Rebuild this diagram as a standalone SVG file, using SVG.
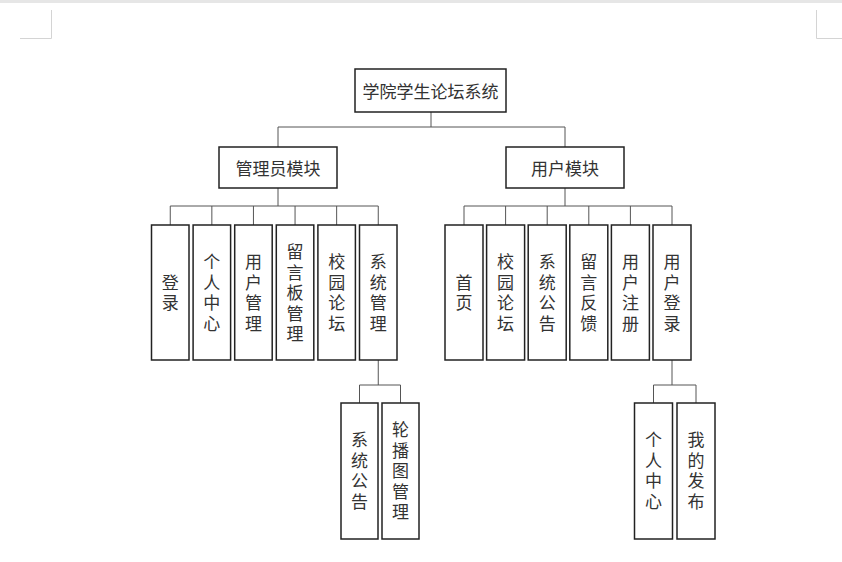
<svg xmlns="http://www.w3.org/2000/svg" width="842" height="562" viewBox="0 0 842 562">
<style>
.box{fill:#fff;stroke:#222;stroke-width:1.5}
.ln{fill:none;stroke:#555;stroke-width:1}
.pg{fill:none;stroke:#d4d4d4;stroke-width:1}
text{font-family:"Noto Sans CJK SC","Liberation Serif",serif;font-size:17px;fill:#333;text-anchor:middle;dominant-baseline:central}
.v{writing-mode:vertical-rl;text-orientation:upright;letter-spacing:3.5px}
</style>
<rect x="0" y="0" width="842" height="562" fill="#fff"/>
<rect x="0" y="0" width="842" height="3" fill="#e6e6e6"/>
<g id="page-marks">
<path class="pg" d="M51.5 10V38.5H20"/>
<path class="pg" d="M816.5 10V38.5H842"/>
</g>
<g id="connectors">
<path class="ln" d="M431 112V127M278 127H565M278 127V147M565 127V147"/>
<path class="ln" d="M278 188V206M170.25 206H378.25M170.25 206V225M211.85 206V225M253.45 206V225M295.05 206V225M336.65 206V225M378.25 206V225"/>
<path class="ln" d="M565 188V206M464 206H672M464 206V225M505.6 206V225M547.2 206V225M588.8 206V225M630.4 206V225M672 206V225"/>
<path class="ln" d="M378.25 360V385M359.5 385H400.5M359.5 385V403M400.5 385V403"/>
<path class="ln" d="M672 360V385M653.5 385H696M653.5 385V403M696 385V403"/>
</g>
<g id="root"><rect class="box" x="355" y="69" width="151" height="43"/><text x="430.5" y="90.5">学院学生论坛系统</text></g>
<g id="admin"><rect class="box" x="219" y="147" width="118" height="41"/><text x="278" y="167.5">管理员模块</text></g>
<g id="user"><rect class="box" x="506" y="147" width="118" height="41"/><text x="565" y="167.5">用户模块</text></g>

<g id="a-login"><rect class="box" x="151.5" y="225" width="37.5" height="135"/><text class="v" x="170.25" y="294.5">登录</text></g>
<g id="a-center"><rect class="box" x="193.1" y="225" width="37.5" height="135"/><text class="v" x="211.85" y="294.5">个人中心</text></g>
<g id="a-users"><rect class="box" x="234.7" y="225" width="37.5" height="135"/><text class="v" x="253.45" y="294.5">用户管理</text></g>
<g id="a-board"><rect class="box" x="276.3" y="225" width="37.5" height="135"/><text class="v" x="295.05" y="294.5">留言板管理</text></g>
<g id="a-forum"><rect class="box" x="317.9" y="225" width="37.5" height="135"/><text class="v" x="336.65" y="294.5">校园论坛</text></g>
<g id="a-system"><rect class="box" x="359.5" y="225" width="37.5" height="135"/><text class="v" x="378.25" y="294.5">系统管理</text></g>

<g id="u-home"><rect class="box" x="445" y="225" width="38" height="135"/><text class="v" x="464" y="294.5">首页</text></g>
<g id="u-forum"><rect class="box" x="486.6" y="225" width="38" height="135"/><text class="v" x="505.6" y="294.5">校园论坛</text></g>
<g id="u-notice"><rect class="box" x="528.2" y="225" width="38" height="135"/><text class="v" x="547.2" y="294.5">系统公告</text></g>
<g id="u-feedback"><rect class="box" x="569.8" y="225" width="38" height="135"/><text class="v" x="588.8" y="294.5">留言反馈</text></g>
<g id="u-register"><rect class="box" x="611.4" y="225" width="38" height="135"/><text class="v" x="630.4" y="294.5">用户注册</text></g>
<g id="u-login"><rect class="box" x="653" y="225" width="38" height="135"/><text class="v" x="672" y="294.5">用户登录</text></g>

<g id="s-notice"><rect class="box" x="341" y="403" width="37" height="136"/><text class="v" x="359.5" y="472.5">系统公告</text></g>
<g id="s-carousel"><rect class="box" x="382" y="403" width="37" height="136"/><text class="v" x="400.5" y="472.5">轮播图管理</text></g>

<g id="l-center"><rect class="box" x="634.5" y="403" width="38" height="136"/><text class="v" x="653.5" y="472.5">个人中心</text></g>
<g id="l-posts"><rect class="box" x="677" y="403" width="38" height="136"/><text class="v" x="696" y="472.5">我的发布</text></g>
</svg>
